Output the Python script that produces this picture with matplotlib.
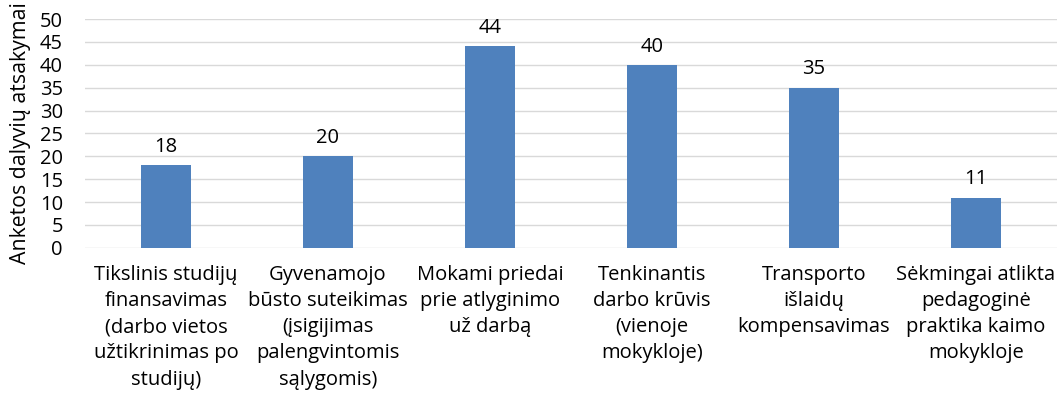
import matplotlib.pyplot as plt
import numpy as np

# %% donnees
categories = [
    'Tikslinis studijų\nfinansavimas\n(darbo vietos\nužtikrinimas po\nstudijų)',
    'Gyvenamojo\nbūsto suteikimas\n(įsigijimas\npalengvintomis\nsąlygomis)',
    'Mokami priedai\nprie atlyginimo\nuž darbą',
    'Tenkinantis\ndarbo krūvis\n(vienoje\nmokykloje)',
    'Transporto\nišlaidų\nkompensavimas',
    'Sėkmingai atlikta\npedagoginė\npraktika kaimo\nmokykloje',
]
values = [18, 20, 44, 40, 35, 11]
y_ticks = [0, 5, 10, 15, 20, 25, 30, 35, 40, 45, 50]

plt.rcParams['font.family'] = ['Open Sans', 'DejaVu Sans']
fs = 14.5

# %% figure
fig = plt.figure(figsize=(10.63, 4.05), dpi=100)
ax = fig.add_axes([0.080, 0.388, 0.914, 0.565])

x = np.arange(len(values))
bars = ax.bar(x, values, width=0.31, color='#4F81BD', zorder=3)
for b, v in zip(bars, values):
    ax.text(b.get_x() + b.get_width() / 2, v + 1.8, str(v), ha='center', va='bottom',
            fontsize=fs, color='#000000')

ax.set_xlim(-0.5, len(values) - 0.5)
ax.set_ylim(0, 50)
ax.set_yticks(y_ticks)
ax.tick_params(axis='y', length=0, labelsize=fs, pad=16)
ax.set_xticks(x)
ax.set_xticklabels(categories, fontsize=fs, linespacing=1.42)
ax.tick_params(axis='x', length=0, pad=12)
ax.grid(axis='y', color='#D9D9D9', linewidth=1, zorder=0)
for s in ax.spines.values():
    s.set_visible(False)
ax.set_ylabel('Anketos dalyvių atsakymai', fontsize=15.3, labelpad=6)

fig.savefig('out.png', dpi=100)
